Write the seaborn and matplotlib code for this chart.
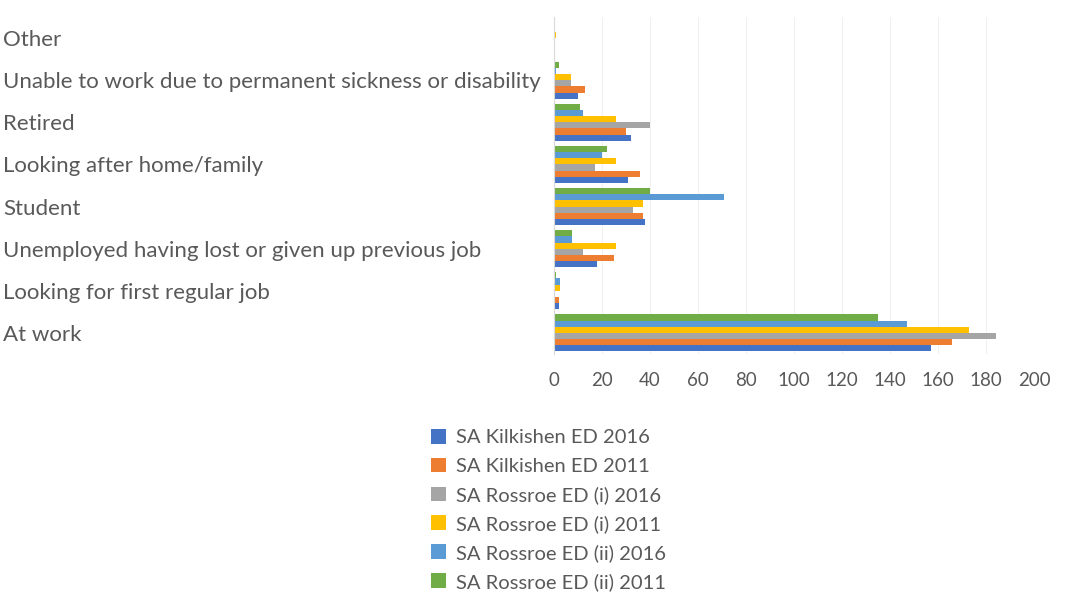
import matplotlib
matplotlib.use("Agg")
import matplotlib.pyplot as plt
import seaborn as sns
import pandas as pd
from matplotlib.patches import Patch

categories = [
    "Other",
    "Unable to work due to permanent sickness or disability",
    "Retired",
    "Looking after home/family",
    "Student",
    "Unemployed having lost or given up previous job",
    "Looking for first regular job",
    "At work",
]
series = [
    "SA Kilkishen ED 2016",
    "SA Kilkishen ED 2011",
    "SA Rossroe ED (i) 2016",
    "SA Rossroe ED (i) 2011",
    "SA Rossroe ED (ii) 2016",
    "SA Rossroe ED (ii) 2011",
]
kilkishen_2016 = [0, 10, 32, 31, 38, 18, 2, 157]
kilkishen_2011 = [0, 13, 30, 36, 37, 25, 2, 166]
rossroe_i_2016 = [0, 7, 40, 17, 33, 12, 0.5, 184]
rossroe_i_2011 = [1, 7, 26, 26, 37, 26, 2.5, 173]
rossroe_ii_2016 = [0, 1, 12, 20, 71, 7.5, 2.5, 147]
rossroe_ii_2011 = [0.5, 2, 11, 22, 40, 7.5, 1, 135]
values = [kilkishen_2016, kilkishen_2011, rossroe_i_2016,
          rossroe_i_2011, rossroe_ii_2016, rossroe_ii_2011]
colors = ["#4472C4", "#ED7D31", "#A5A5A5", "#FFC000", "#5B9BD5", "#70AD47"]

rows = []
for s, vals in zip(series, values):
    for c, v in zip(categories, vals):
        rows.append({"category": c, "series": s, "value": v})
df = pd.DataFrame(rows)

sns.set_style("white")
plt.rcParams["font.family"] = ["Lato", "DejaVu Sans"]
text_color = "#595959"

fig = plt.figure(figsize=(10.66, 5.95), dpi=100)
ax = fig.add_axes([554 / 1066, 1 - 354 / 595, (1034 - 554) / 1066, (354 - 17) / 595])

hue_order = series[::-1]
palette = dict(zip(series, colors))
sns.barplot(data=df, y="category", x="value", hue="series", order=categories,
            hue_order=hue_order, palette=palette, orient="h", width=0.88,
            saturation=1, ax=ax, legend=False, linewidth=0)

ax.set_xlim(0, 200)
ax.set_xticks(range(0, 201, 20))
ax.set_xlabel("")
ax.set_ylabel("")
ax.grid(axis="x", color="#F0F0F0", linewidth=0.8)
ax.set_axisbelow(True)
for side in ["top", "right", "bottom"]:
    ax.spines[side].set_visible(False)
ax.spines["left"].set_color("#D9D9D9")
ax.tick_params(axis="x", length=0, labelsize=13.5, labelcolor=text_color, pad=13)
ax.tick_params(axis="y", length=0, labelsize=16, labelcolor=text_color, pad=(554 - 3) * 0.72)
for lab in ax.get_yticklabels():
    lab.set_horizontalalignment("left")

handles = [Patch(facecolor=c, edgecolor="none") for c in colors]
fig.legend(handles, series, loc="upper left", bbox_to_anchor=(423 / 1066, 1 - 421 / 595),
           frameon=False, fontsize=14.5, labelcolor=text_color, handlelength=0.75,
           handleheight=0.75, handletextpad=0.5, labelspacing=0.55, borderaxespad=0)

fig.savefig("out.png", dpi=100, facecolor="white")
